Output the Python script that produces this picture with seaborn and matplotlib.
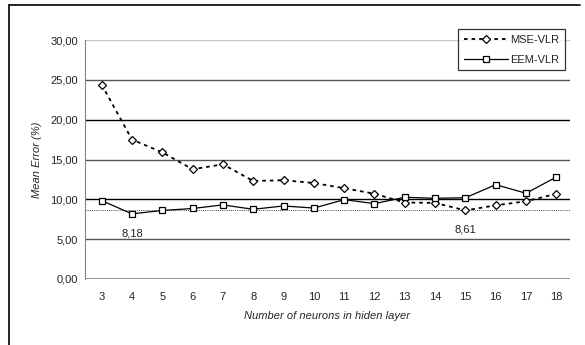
import matplotlib
matplotlib.use("Agg")
import numpy as np
import pandas as pd
import matplotlib.pyplot as plt
import seaborn as sns
from matplotlib.lines import Line2D
from matplotlib.ticker import FuncFormatter

# ---------------------------------------------------------
# Data
# ---------------------------------------------------------

neurons = [3, 4, 5, 6, 7, 8, 9, 10, 11, 12, 13, 14, 15, 16, 17, 18]

mse_vlr = [24.4, 17.5, 15.9, 13.77, 14.4, 12.3, 12.4, 12.05,
           11.4, 10.7, 9.6, 9.55, 8.61, 9.25, 9.75, 10.7]

eem_vlr = [9.84, 8.18, 8.6, 8.85, 9.3, 8.75, 9.17, 8.9,
           9.96, 9.46, 10.26, 10.13, 10.2, 11.84, 10.76, 12.8]

ref_level = 8.7
y_ticks = [0, 5, 10, 15, 20, 25, 30]

df = pd.DataFrame({"x": neurons, "MSE-VLR": mse_vlr, "EEM-VLR": eem_vlr})

# ---------------------------------------------------------
# Plot
# ---------------------------------------------------------

sns.set_style("white")
plt.rcParams["font.family"] = ["Liberation Sans", "DejaVu Sans"]
plt.rcParams["font.size"] = 8

fig = plt.figure(figsize=(5.85, 3.45), dpi=100)
ax = fig.add_axes([85 / 585, 1 - 279 / 345, (570 - 85) / 585, (279 - 40) / 345])

# grid lines
for t in y_ticks[1:]:
    col = "#c8c8c8" if t == 30 else ("#000000" if t % 10 == 0 else "#555555")
    ax.axhline(t, color=col, lw=1.0, zorder=1)

ax.axhline(ref_level, color="#444444", lw=0.7, ls=(0, (1, 1.2)), zorder=1)

sns.lineplot(data=df, x="x", y="MSE-VLR", ax=ax, color="black",
             lw=1.3, linestyle=(0, (2, 2.2)), marker="D", markersize=4.3,
             markerfacecolor="white", markeredgecolor="black",
             markeredgewidth=0.9, label="MSE-VLR", zorder=3)
sns.lineplot(data=df, x="x", y="EEM-VLR", ax=ax, color="black",
             lw=0.9, marker="s", markersize=5,
             markerfacecolor="white", markeredgecolor="black",
             markeredgewidth=0.9, label="EEM-VLR", zorder=4)

ax.set_xlim(2.45, 18.45)
ax.set_ylim(0, 30)
ax.set_xticks(neurons)
ax.set_yticks(y_ticks)
ax.yaxis.set_major_formatter(FuncFormatter(lambda v, p: f"{v:.2f}".replace(".", ",")))

for s in ["top", "right", "bottom"]:
    ax.spines[s].set_visible(False)
ax.spines["left"].set_color("#808080")
ax.axhline(0, color="#808080", lw=1.2, zorder=2)
ax.tick_params(axis="y", length=3, width=1, color="#808080", pad=2, labelcolor="#222222")
ax.tick_params(axis="x", length=0, pad=9, labelcolor="#222222")

ax.set_xlabel("Number of neurons in hiden layer", style="italic", labelpad=7)
ax.set_ylabel("Mean Error (%)", style="italic", labelpad=6)

# data labels for minima
ax.annotate("8,18", (4, 8.18), xytext=(0, -14), textcoords="offset points",
            ha="center", va="center", color="#222222")
ax.annotate("8,61", (15, 8.61), xytext=(0, -14), textcoords="offset points",
            ha="center", va="center", color="#222222")

leg = ax.legend(loc="upper right", bbox_to_anchor=(0.99, 1.046), frameon=True,
                fancybox=False, edgecolor="black", handlelength=4.0,
                handletextpad=0.2, borderpad=0.5, labelspacing=0.9,
                borderaxespad=0)
leg.get_frame().set_linewidth(0.9)

# outer chart frame (only left and top visible)
fig.add_artist(Line2D([9 / 585, 9 / 585], [0, 1 - 5 / 345], color="black", lw=1.2))
fig.add_artist(Line2D([9 / 585, 580 / 585], [1 - 5 / 345, 1 - 5 / 345], color="black", lw=1.2))

fig.savefig("out.png", dpi=100)
plt.close()
